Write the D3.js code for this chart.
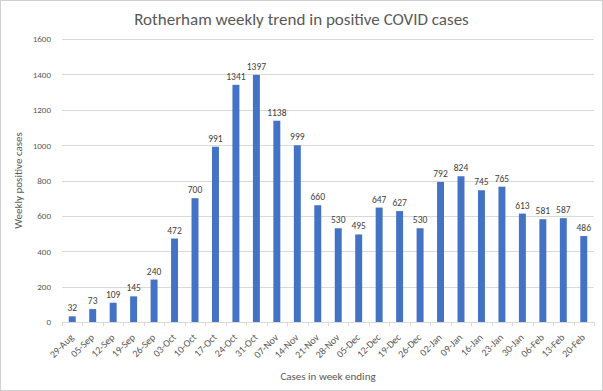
<!DOCTYPE html>
<html><head><meta charset="utf-8">
<script src="https://cdn.jsdelivr.net/npm/d3@7"></script>
<style>body{margin:0;background:#fff}svg{display:block}</style>
</head><body><svg id="c" width="603" height="391"></svg>
<script>
const weeks=["29-Aug","05-Sep","12-Sep","19-Sep","26-Sep","03-Oct","10-Oct","17-Oct","24-Oct","31-Oct","07-Nov","14-Nov","21-Nov","28-Nov","05-Dec","12-Dec","19-Dec","26-Dec","02-Jan","09-Jan","16-Jan","23-Jan","30-Jan","06-Feb","13-Feb","20-Feb"];
const cases=[32,73,109,145,240,472,700,991,1341,1397,1138,999,660,530,495,647,627,530,792,824,745,765,613,581,587,486];
const yTicks=[0,200,400,600,800,1000,1200,1400,1600];

const svg=d3.select("#c");
const W=603,H=391;
svg.append("rect").attr("x",0.5).attr("y",0.5).attr("width",W-1).attr("height",H-1).attr("fill","#fff").attr("stroke","#d0d0d0");
const font="Carlito, Calibri, Lato, sans-serif";
const m={l:62,r:9,t:39,b:69};
const x=d3.scaleBand().domain(weeks).range([m.l,W-m.r]).paddingInner(0.66).paddingOuter(0.33);
const y=d3.scaleLinear().domain([0,1600]).range([H-m.b,m.t]);

svg.append("g").selectAll("line").data(yTicks.slice(1)).join("line")
 .attr("x1",m.l).attr("x2",W-m.r).attr("y1",d=>Math.round(y(d))+0.5).attr("y2",d=>Math.round(y(d))+0.5).attr("stroke","#d9d9d9");

const ya=svg.append("g").attr("transform",`translate(${m.l},0)`).call(d3.axisLeft(y).tickValues(yTicks).tickFormat(d3.format("d")).tickSize(0).tickPadding(11));
ya.select(".domain").remove();
ya.selectAll("text").attr("font-family",font).attr("font-size",9).attr("fill","#595959");

svg.append("line").attr("x1",m.l).attr("x2",W-m.r).attr("y1",Math.round(y(0))+0.5).attr("y2",Math.round(y(0))+0.5).attr("stroke","#d9d9d9");
const step=x.step();
svg.append("g").selectAll("line").data(d3.range(weeks.length+1)).join("line")
 .attr("x1",i=>Math.round(m.l+i*step)+0.5).attr("x2",i=>Math.round(m.l+i*step)+0.5).attr("y1",y(0)).attr("y2",y(0)+4).attr("stroke","#d9d9d9");

svg.append("g").selectAll("rect").data(weeks).join("rect")
 .attr("x",(d,i)=>x(d)).attr("width",x.bandwidth())
 .attr("y",(d,i)=>y(cases[i])).attr("height",(d,i)=>y(0)-y(cases[i])).attr("fill","#4472C4");

svg.append("g").selectAll("text").data(weeks).join("text")
 .attr("x",d=>x(d)+x.bandwidth()/2).attr("y",(d,i)=>y(cases[i])-5)
 .attr("text-anchor","middle").attr("font-family",font).attr("font-size",9.5).attr("fill","#404040")
 .text((d,i)=>cases[i]);

svg.append("g").selectAll("text").data(weeks).join("text")
 .attr("transform",d=>`translate(${x(d)+x.bandwidth()/2+2},${y(0)+16}) rotate(-45)`)
 .attr("text-anchor","end").attr("font-family",font).attr("font-size",10).attr("fill","#595959")
 .text(d=>d);

svg.append("text").attr("x",W/2).attr("y",25).attr("text-anchor","middle")
 .attr("font-family",font).attr("font-size",17).attr("fill","#595959").text("Rotherham weekly trend in positive COVID cases");
svg.append("text").attr("transform",`translate(22,${(m.t+H-m.b)/2}) rotate(-90)`).attr("text-anchor","middle")
 .attr("font-family",font).attr("font-size",11).attr("fill","#595959").text("Weekly positive cases");
svg.append("text").attr("x",(m.l+W-m.r)/2).attr("y",380).attr("text-anchor","middle")
 .attr("font-family",font).attr("font-size",11).attr("fill","#595959").text("Cases in week ending");
</script></body></html>
